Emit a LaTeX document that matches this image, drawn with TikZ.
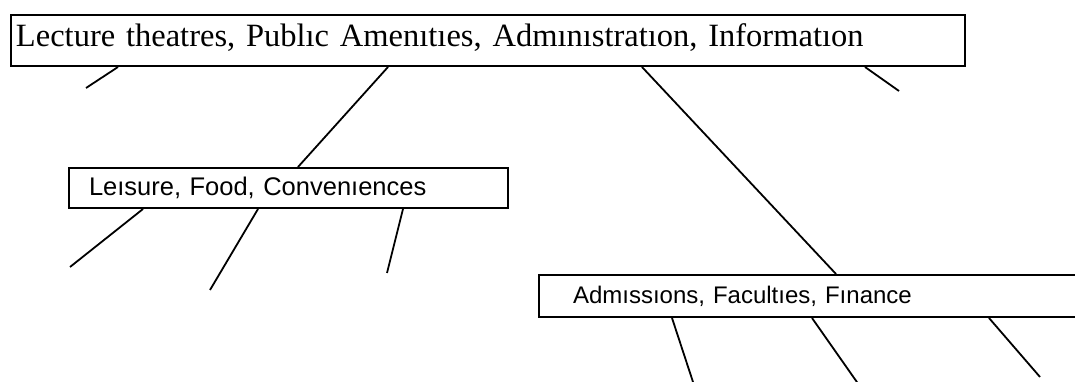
\documentclass[tikz,border=0pt]{standalone}
\usepackage{fontspec}
\setmainfont{Liberation Serif}
\newfontfamily\arialfont{Liberation Sans}
\usetikzlibrary{calc}
\begin{document}
\begin{tikzpicture}[x=1pt,y=-1pt,
  box/.style={draw, line width=2pt, rectangle, anchor=north west,
    align=left, inner ysep=0pt},
  serifbox/.style={box, font=\fontsize{32.5}{38}\selectfont,
    text height=22pt, text depth=10pt},
  sansbox/.style={box, font=\arialfont\fontsize{#1}{30}\selectfont},
  spoke/.style={line width=1.8pt}]
\clip (0,0) rectangle (1075,382);
\fill[white] (0,0) rectangle (1075,382);

% the three category boxes
\node[serifbox, inner xsep=5pt, text width=944pt, minimum height=51pt]
  (top) at (10,14) {Lecture theatres, Publıc Amenıtıes, Admınıstratıon, Informatıon};
\node[sansbox=25.5, inner xsep=20pt, text width=399pt, minimum height=40pt]
  (mid) at (68,167) {Leısure, Food, Convenıences};
\node[sansbox=24, inner xsep=34pt, text width=492pt, minimum height=42pt]
  (adm) at (538,274) {Admıssıons, Facultıes, Fınance};

% free ends of the short branches
\coordinate (t1) at (86,88);
\coordinate (t2) at (899,91);
\coordinate (m1) at (70,267);
\coordinate (m2) at (210,290);
\coordinate (m3) at (387,273);
\coordinate (a1) at (694,385);
\coordinate (a2) at (859,385);
\coordinate (a3) at (1040,377);

% branches from the top box
\draw[spoke] ($(top.south west)+(108,0)$) -- (t1);
\draw[spoke] ($(top.south west)+(378,0)$) -- ($(mid.north west)+(230,0)$);
\draw[spoke] ($(top.south west)+(632,0)$) -- ($(adm.north west)+(298,0)$);
\draw[spoke] ($(top.south west)+(855,0)$) -- (t2);

% branches from the middle box
\draw[spoke] ($(mid.south west)+(75,0)$) -- (m1);
\draw[spoke] ($(mid.south west)+(190,0)$) -- (m2);
\draw[spoke] ($(mid.south west)+(335,0)$) -- (m3);

% branches from the lower right box
\draw[spoke] ($(adm.south west)+(134,0)$) -- (a1);
\draw[spoke] ($(adm.south west)+(274,0)$) -- (a2);
\draw[spoke] ($(adm.south west)+(451,0)$) -- (a3);
\end{tikzpicture}
\end{document}
